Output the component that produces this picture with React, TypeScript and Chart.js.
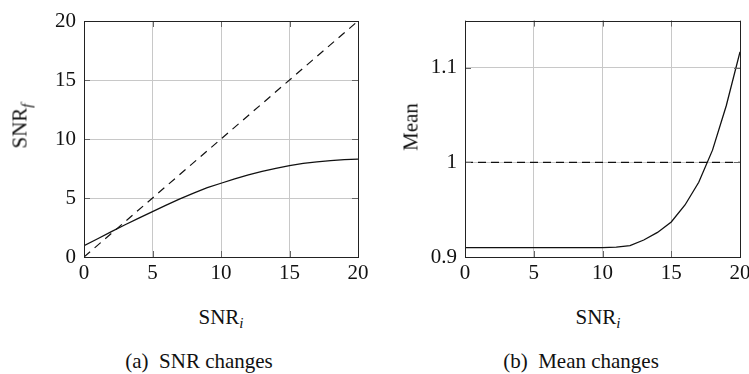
import React, { useEffect, useRef } from "react";
import { Chart, registerables } from "chart.js";

Chart.register(...registerables);

// ---- data ----
const snrInput = [0, 1, 2, 3, 4, 5, 6, 7, 8, 9, 10, 11, 12, 13, 14, 15, 16, 17, 18, 19, 20];
const snrFinal = [0.95, 1.55, 2.15, 2.73, 3.3, 3.85, 4.4, 4.92, 5.42, 5.87, 6.25, 6.62, 6.95, 7.25, 7.52, 7.75, 7.93, 8.07, 8.17, 8.25, 8.3];
const identityX = [0, 20];
const identityY = [0, 20];
const meanValues = [0.91, 0.91, 0.91, 0.91, 0.91, 0.91, 0.91, 0.91, 0.91, 0.91, 0.91, 0.9105, 0.912, 0.918, 0.926, 0.937, 0.955, 0.979, 1.013, 1.06, 1.117];
const meanRefX = [0, 20];
const meanRefY = [1, 1];
const xTickValues = [0, 5, 10, 15, 20];
const snrTickValues = [0, 5, 10, 15, 20];
const meanTickValues = [0.9, 1, 1.1];

const FONT = "'Liberation Serif', 'DejaVu Serif', serif";
const FONT_SIZE = 21;
const TICK_LEN = 6;

const pts = (xs: number[], ys: number[]) => xs.map((x, i) => ({ x, y: ys[i] }));

const framePlugin = {
  id: "frame",
  afterDatasetsDraw(chart: any) {
    const { ctx, chartArea: a, scales } = chart;
    ctx.save();
    ctx.lineWidth = 1;
    ctx.strokeStyle = "#666";
    ctx.beginPath();
    for (const t of scales.x.ticks) {
      const px = Math.round(scales.x.getPixelForValue(t.value)) + 0.5;
      ctx.moveTo(px, a.bottom);
      ctx.lineTo(px, a.bottom - TICK_LEN);
      ctx.moveTo(px, a.top);
      ctx.lineTo(px, a.top + TICK_LEN);
    }
    for (const t of scales.y.ticks) {
      const py = Math.round(scales.y.getPixelForValue(t.value)) + 0.5;
      ctx.moveTo(a.left, py);
      ctx.lineTo(a.left + TICK_LEN, py);
      ctx.moveTo(a.right, py);
      ctx.lineTo(a.right - TICK_LEN, py);
    }
    ctx.stroke();
    ctx.strokeStyle = "#222";
    const l = Math.round(a.left) + 0.5;
    const t = Math.round(a.top) + 0.5;
    const r = Math.round(a.right) + 0.5;
    const b = Math.round(a.bottom) + 0.5;
    ctx.strokeRect(l, t, r - l, b - t);
    ctx.restore();
  },
};

type PanelProps = {
  left: number;
  width: number;
  height: number;
  yAxisWidth: number;
  padRight: number;
  padTop: number;
  xAxisHeight: number;
  solid: { x: number; y: number }[];
  dashed: { x: number; y: number }[];
  dash: number[];
  yMin: number;
  yMax: number;
  yTicks: number[];
};

function Panel(p: PanelProps) {
  const ref = useRef<HTMLCanvasElement | null>(null);
  useEffect(() => {
    if (!ref.current) return;
    const chart = new Chart(ref.current, {
      type: "line",
      data: {
        datasets: [
          {
            data: p.dashed,
            borderColor: "#111",
            borderWidth: 1.2,
            borderDash: p.dash,
            pointRadius: 0,
            tension: 0,
            fill: false,
          },
          {
            data: p.solid,
            borderColor: "#111",
            borderWidth: 1.3,
            pointRadius: 0,
            tension: 0,
            fill: false,
          },
        ],
      },
      options: {
        animation: false,
        responsive: false,
        maintainAspectRatio: false,
        events: [],
        layout: { padding: { left: 0, right: p.padRight, top: p.padTop, bottom: 0 } },
        plugins: { legend: { display: false }, tooltip: { enabled: false }, title: { display: false } },
        scales: {
          x: {
            type: "linear",
            min: 0,
            max: 20,
            afterBuildTicks: (s: any) => {
              s.ticks = xTickValues.map((v) => ({ value: v }));
            },
            afterFit: (s: any) => {
              s.height = p.xAxisHeight;
            },
            grid: { color: "#c8c8c8", lineWidth: 1, drawTicks: false },
            border: { display: false },
            ticks: {
              padding: 4,
              color: "#111",
              font: { family: FONT, size: FONT_SIZE },
              maxRotation: 0,
              callback: (v: any) => String(v),
            },
          },
          y: {
            type: "linear",
            min: p.yMin,
            max: p.yMax,
            afterBuildTicks: (s: any) => {
              s.ticks = p.yTicks.map((v) => ({ value: v }));
            },
            afterFit: (s: any) => {
              s.width = p.yAxisWidth;
            },
            grid: { color: "#c8c8c8", lineWidth: 1, drawTicks: false },
            border: { display: false },
            ticks: {
              padding: 8,
              color: "#111",
              font: { family: FONT, size: FONT_SIZE },
              callback: (v: any) => String(Math.round(Number(v) * 100) / 100),
            },
          },
        },
      },
      plugins: [framePlugin],
    });
    return () => chart.destroy();
  }, []);
  return (
    <canvas
      ref={ref}
      width={p.width}
      height={p.height}
      style={{ position: "absolute", left: p.left, top: 0, width: p.width, height: p.height }}
    />
  );
}

const textStyle: React.CSSProperties = {
  position: "absolute",
  fontFamily: FONT,
  fontSize: FONT_SIZE,
  lineHeight: "21px",
  color: "#111",
  whiteSpace: "nowrap",
};

function Label({ x, y, rotate, children }: { x: number; y: number; rotate?: boolean; children: React.ReactNode }) {
  return (
    <div
      style={{
        ...textStyle,
        left: x,
        top: y,
        transform: `translate(-50%, -50%)${rotate ? " rotate(-90deg)" : ""}`,
      }}
    >
      {children}
    </div>
  );
}

const sub = (s: string) => (
  <sub style={{ fontStyle: "italic", fontSize: "0.72em", verticalAlign: "-0.3em", lineHeight: 0 }}>{s}</sub>
);

export default function App() {
  return (
    <div
      style={{
        position: "absolute",
        left: 0,
        top: 0,
        width: 749,
        height: 374,
        overflow: "hidden",
        background: "#fff",
      }}
    >
      <Panel
        left={0}
        width={380}
        height={300}
        yAxisWidth={84}
        padRight={22}
        padTop={21}
        xAxisHeight={43}
        solid={pts(snrInput, snrFinal)}
        dashed={pts(identityX, identityY)}
        dash={[8, 6]}
        yMin={0}
        yMax={20}
        yTicks={snrTickValues}
      />
      <Panel
        left={380}
        width={380}
        height={300}
        yAxisWidth={85}
        padRight={20}
        padTop={20}
        xAxisHeight={43}
        solid={pts(snrInput, meanValues)}
        dashed={pts(meanRefX, meanRefY)}
        dash={[8, 5]}
        yMin={0.9}
        yMax={1.15}
        yTicks={meanTickValues}
      />
      <Label x={20} y={126} rotate>
        SNR{sub("f")}
      </Label>
      <Label x={411} y={127} rotate>
        Mean
      </Label>
      <Label x={221} y={317}>
        SNR{sub("i")}
      </Label>
      <Label x={598} y={317}>
        SNR{sub("i")}
      </Label>
      <Label x={199} y={361}>
        (a)&nbsp; SNR changes
      </Label>
      <Label x={581} y={361}>
        (b)&nbsp; Mean changes
      </Label>
    </div>
  );
}
